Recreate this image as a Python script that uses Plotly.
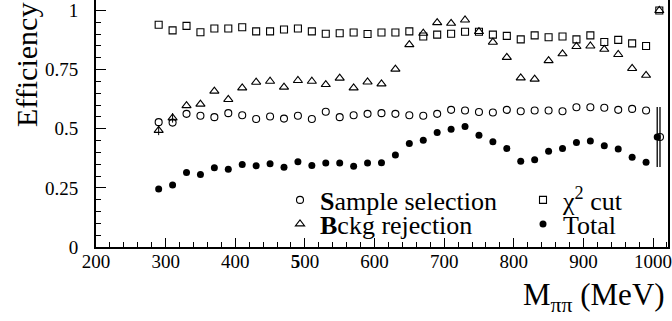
import plotly.graph_objects as go

# ---------------- data ----------------
mass = [290, 310, 330, 350, 370, 390, 410, 430, 450, 470,
        490, 510, 530, 550, 570, 590, 610, 630, 650, 670,
        690, 710, 730, 750, 770, 790, 810, 830, 850, 870,
        890, 910, 930, 950, 970, 990]

sample_sel = [0.528, 0.526, 0.563, 0.555, 0.549, 0.566, 0.557, 0.541, 0.552, 0.543,
              0.555, 0.541, 0.572, 0.549, 0.557, 0.563, 0.566, 0.563, 0.557, 0.555,
              0.563, 0.580, 0.577, 0.571, 0.569, 0.580, 0.574, 0.577, 0.577, 0.574,
              0.591, 0.591, 0.589, 0.580, 0.584, 0.577]

bckg_rej = [0.493, 0.546, 0.598, 0.604, 0.659, 0.624, 0.673, 0.697, 0.701, 0.676,
            0.704, 0.701, 0.687, 0.714, 0.673, 0.698, 0.690, 0.752, 0.856, 0.904,
            0.949, 0.946, 0.960, 0.911, 0.866, 0.802, 0.715, 0.710, 0.788, 0.817,
            0.848, 0.850, 0.836, 0.814, 0.755, 0.726]

chi2_cut = [0.940, 0.916, 0.935, 0.908, 0.924, 0.924, 0.929, 0.912, 0.912, 0.920,
            0.924, 0.912, 0.902, 0.904, 0.907, 0.901, 0.907, 0.907, 0.912, 0.890,
            0.898, 0.902, 0.910, 0.910, 0.898, 0.893, 0.878, 0.895, 0.887, 0.890,
            0.878, 0.895, 0.867, 0.876, 0.861, 0.850]

total = [0.245, 0.262, 0.315, 0.307, 0.335, 0.329, 0.349, 0.344, 0.352, 0.337,
         0.361, 0.345, 0.355, 0.355, 0.341, 0.355, 0.356, 0.389, 0.438, 0.451,
         0.484, 0.498, 0.510, 0.473, 0.445, 0.417, 0.363, 0.369, 0.405, 0.417,
         0.442, 0.448, 0.428, 0.414, 0.380, 0.358]

# extra (overall) points at the right edge
extra_x_sample = 1010
extra_x_total = 1006
extra_x_cuts = 1009
extra_sample = 0.465
extra_total = 0.465
extra_err = 0.127
extra_chi2 = 1.0
extra_bckg = 1.0

# small error bars on the first background-rejection points
bckg_err_x = [290, 310]
bckg_err_y = [0.493, 0.546]
bckg_err = [0.02, 0.02]

x_tickvals = [200, 300, 400, 500, 600, 700, 800, 900, 1000]
x_ticktext = ["200", "300", "400", "<b>5</b>00", "600", "700", "800", "900", "1000"]
y_tickvals = [0, 0.25, 0.5, 0.75, 1]
y_ticktext = ["0", "0.25", "0.5", "0.75", "1"]

FONT = "Liberation Serif, Times New Roman, serif"

fig = go.Figure()

fig.add_trace(go.Scatter(
    x=mass + [extra_x_sample], y=sample_sel + [extra_sample], mode="markers",
    name="<b>S</b>ample selection", legend="legend",
    marker=dict(symbol="circle-open", size=7, color="black", line=dict(width=1.1))))
fig.add_trace(go.Scatter(
    x=mass + [extra_x_cuts], y=chi2_cut + [extra_chi2], mode="markers",
    name="χ<sup>2</sup> cut", legend="legend2",
    marker=dict(symbol="square-open", size=7, color="black", line=dict(width=1.1))))
fig.add_trace(go.Scatter(
    x=mass + [extra_x_cuts], y=bckg_rej + [extra_bckg], mode="markers",
    name="<b>B</b>ckg rejection", legend="legend3",
    marker=dict(symbol="triangle-up-open", size=8, color="black", line=dict(width=1.1))))
fig.add_trace(go.Scatter(
    x=mass + [extra_x_total], y=total + [extra_total], mode="markers",
    name="Total", legend="legend4",
    marker=dict(symbol="circle", size=7, color="black")))

# error bars (no legend entries)
fig.add_trace(go.Scatter(
    x=bckg_err_x, y=bckg_err_y, mode="markers", showlegend=False,
    marker=dict(size=1, opacity=0),
    error_y=dict(type="data", array=bckg_err, width=0, thickness=1, color="black")))
fig.add_trace(go.Scatter(
    x=[extra_x_total, extra_x_sample], y=[extra_total, extra_sample], mode="markers",
    showlegend=False, marker=dict(size=1, opacity=0),
    error_y=dict(type="data", array=[extra_err, extra_err], width=0, thickness=1.3,
                 color="black")))

W, H = 672, 321
ml, mr, mt, mb = 96, 4, 0, 74
pw, ph = W - ml - mr, H - mt - mb


def px_x(p):
    return (p - ml) / pw


def px_y(p):
    return (H - mb - p) / ph


legend_common = dict(
    orientation="v", xanchor="left", yanchor="middle",
    font=dict(family=FONT, size=26, color="black"),
    bgcolor="rgba(0,0,0,0)", borderwidth=0, itemwidth=30,
)

fig.update_layout(
    width=W, height=H,
    margin=dict(l=ml, r=mr, t=mt, b=mb, pad=0, autoexpand=False),
    paper_bgcolor="white", plot_bgcolor="white",
    font=dict(family=FONT, color="black", size=19),
    showlegend=True,
    legend=dict(x=px_x(280), y=px_y(200), **legend_common),
    legend2=dict(x=px_x(523), y=px_y(200), **legend_common),
    legend3=dict(x=px_x(280), y=px_y(224), **legend_common),
    legend4=dict(x=px_x(523), y=px_y(224), **legend_common),
    hovermode=False,
    xaxis=dict(
        range=[200, 1021.5], showgrid=False, zeroline=False, automargin=False,
        showline=True, linecolor="black", linewidth=2, mirror=False,
        ticks="inside", ticklen=9, tickwidth=1, tickcolor="black",
        tickvals=x_tickvals, ticktext=x_ticktext,
        tickfont=dict(family=FONT, size=19, color="black"),
        ticklabelstandoff=-4, ticklabeloverflow="allow",
        minor=dict(dtick=20, tick0=200, ticks="inside", ticklen=5, tickwidth=1,
                   tickcolor="black", showgrid=False),
    ),
    yaxis=dict(
        range=[0, 1.0445], showgrid=False, zeroline=False, automargin=False,
        showline=True, linecolor="black", linewidth=2, mirror=True,
        ticks="inside", ticklen=10, tickwidth=1, tickcolor="black",
        tickvals=y_tickvals, ticktext=y_ticktext,
        tickfont=dict(family=FONT, size=19, color="black"),
        ticklabelstandoff=12, ticklabeloverflow="allow",
        minor=dict(dtick=0.05, tick0=0, ticks="inside", ticklen=5, tickwidth=1,
                   tickcolor="black", showgrid=False),
    ),
    annotations=[
        dict(text="Efficiency", textangle=-90, xref="paper", yref="paper",
             x=px_x(26), y=px_y(65), xanchor="center", yanchor="middle",
             showarrow=False, font=dict(family=FONT, size=30, color="black")),
        dict(text="M<sub>ππ</sub> (MeV)", xref="paper", yref="paper",
             x=px_x(667), y=px_y(297), xanchor="right", yanchor="middle",
             showarrow=False, font=dict(family=FONT, size=31, color="black")),
    ],
)

fig.write_html(
    "out.html", include_plotlyjs=True, config=dict(displayModeBar=False),
    post_script="document.body.style.margin='0';document.body.style.overflow='hidden';",
)
